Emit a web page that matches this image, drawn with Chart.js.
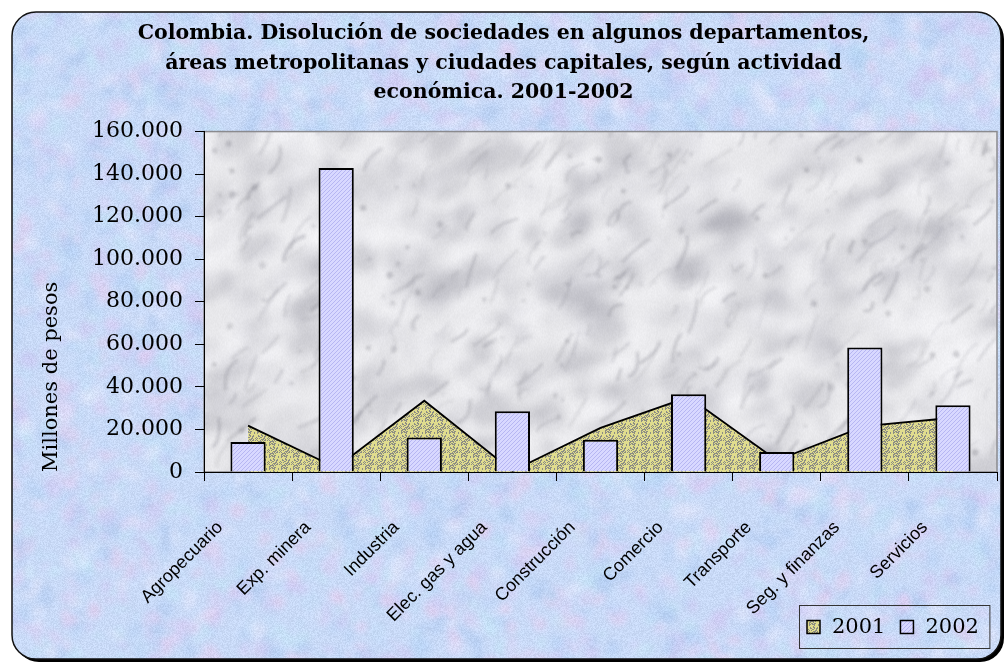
<!DOCTYPE html>
<html>
<head>
<meta charset="utf-8">
<script src="https://cdn.jsdelivr.net/npm/chart.js@4.4.1/dist/chart.umd.min.js"></script>
<style>
  html, body { margin: 0; padding: 0; background: #fff; }
  #wrap { width: 1007px; height: 669px; }
</style>
</head>
<body>
<div id="wrap"><canvas id="chart" width="1007" height="669"></canvas></div>
<script>
// Data
// ----------------------------------------------
const categories = ['Agropecuario', 'Exp. minera', 'Industria', 'Elec. gas y agua', 'Construcción',
                    'Comercio', 'Transporte', 'Seg. y finanzas', 'Servicios'];
const values2001 = [21800, 2000, 33500, 500, 20700, 35200, 5500, 21600, 25500];
const values2002 = [14100, 142900, 16200, 28500, 15200, 36500, 9400, 58500, 31400];
const seriesNames = ['2001', '2002'];
const titleLines = [
    'Colombia. Disolución de sociedades en algunos departamentos,',
    'áreas metropolitanas y ciudades capitales, según actividad',
    'económica. 2001-2002'
];
const yAxisTitle = 'Millones de pesos';


// Textures (seeded, purely decorative)
// ----------------------------------------------
function rng( seed ) {
    return function() {
        seed |= 0; seed = seed + 0x6D2B79F5 | 0;
        let t = Math.imul( seed ^ seed >>> 15, 1 | seed );
        t = t + Math.imul( t ^ t >>> 7, 61 | t ) ^ t;
        return ( ( t ^ t >>> 14 ) >>> 0 ) / 4294967296;
    };
}

function addGrain( g, w, h, amount, rand ) {
    const img = g.getImageData( 0, 0, w, h );
    const d = img.data;
    for ( let i = 0; i < d.length; i += 4 ) {
        const n = ( rand() - 0.5 ) * amount;
        d[i] += n; d[i + 1] += n; d[i + 2] += n;
    }
    g.putImageData( img, 0, 0 );
}

// draw once, blur once
function blurred( src, px ) {
    const c = document.createElement( 'canvas' );
    c.width = src.width; c.height = src.height;
    const g = c.getContext( '2d' );
    g.drawImage( src, 0, 0 );
    g.filter = 'blur(' + px + 'px)';
    g.drawImage( src, 0, 0 );
    g.filter = 'none';
    return c;
}

function makeBackground( w, h ) {
    const c = document.createElement( 'canvas' );
    c.width = w; c.height = h;
    const g = c.getContext( '2d' );
    const rand = rng( 7 );
    g.fillStyle = '#c9daf7';
    g.fillRect( 0, 0, w, h );
    const palette = [ '#b8d4f5', '#c2e4f5', '#e4cdee', '#cfc6f2', '#e4e8fb', '#afcbf1', '#d8cff4', '#c3dcf8' ];
    g.globalAlpha = 0.55;
    for ( let i = 0; i < 4000; i++ ) {
        g.fillStyle = palette[ Math.floor( rand() * palette.length ) ];
        g.beginPath();
        g.ellipse( rand() * w, rand() * h, 3 + rand() * 9, 2 + rand() * 7, rand() * Math.PI, 0, Math.PI * 2 );
        g.fill();
    }
    g.globalAlpha = 1;
    const out = blurred( c, 3 );
    addGrain( out.getContext( '2d' ), w, h, 20, rand );
    return out;
}

function makeMarble( w, h ) {
    const c = document.createElement( 'canvas' );
    c.width = w; c.height = h;
    const g = c.getContext( '2d' );
    const rand = rng( 21 );
    g.fillStyle = '#e8e8eb';
    g.fillRect( 0, 0, w, h );
    g.globalAlpha = 0.3;
    for ( let i = 0; i < 1000; i++ ) {
        const r = rand();
        g.fillStyle = r < 0.5 ? '#fafafc' : ( r < 0.82 ? '#c6c6cc' : '#a0a0a8' );
        g.beginPath();
        g.ellipse( rand() * w, rand() * h, 5 + rand() * 24, 4 + rand() * 12, -0.7 + rand() * 0.6, 0, Math.PI * 2 );
        g.fill();
    }
    const soft = blurred( c, 5 );
    const s = soft.getContext( '2d' );

    const veins = document.createElement( 'canvas' );
    veins.width = w; veins.height = h;
    const v = veins.getContext( '2d' );
    for ( let i = 0; i < 300; i++ ) {
        v.globalAlpha = 0.12 + rand() * 0.22;
        v.strokeStyle = '#7a7a84';
        v.lineWidth = 1 + rand() * 2.5;
        const x = rand() * w, y = rand() * h, len = 10 + rand() * 30;
        const ang = -0.5 - rand() * 0.9;
        v.beginPath();
        v.moveTo( x, y );
        v.quadraticCurveTo( x + Math.cos( ang ) * len * 0.5 + ( rand() - 0.5 ) * 20,
                            y + Math.sin( ang ) * len * 0.5 + ( rand() - 0.5 ) * 20,
                            x + Math.cos( ang ) * len, y + Math.sin( ang ) * len );
        v.stroke();
    }
    for ( let i = 0; i < 120; i++ ) {
        v.globalAlpha = 0.25 + rand() * 0.2;
        v.fillStyle = '#8a8a92';
        v.beginPath();
        v.arc( rand() * w, rand() * h, 1 + rand() * 2.5, 0, Math.PI * 2 );
        v.fill();
    }
    s.filter = 'blur(1.5px)';
    s.drawImage( veins, 0, 0 );
    s.filter = 'none';
    addGrain( s, w, h, 8, rand );
    return soft;
}

function makeAreaPattern() {
    const c = document.createElement( 'canvas' );
    c.width = 12; c.height = 12;
    const g = c.getContext( '2d' );
    const rand = rng( 3 );
    g.fillStyle = '#e0dc8e';
    g.fillRect( 0, 0, 12, 12 );
    g.fillStyle = '#8c8c84';
    for ( let i = 0; i < 60; i++ ) {
        g.fillRect( Math.floor( rand() * 12 ), Math.floor( rand() * 12 ), 1, 1 );
    }
    return g.createPattern( c, 'repeat' );
}

function makeBarPattern() {
    const c = document.createElement( 'canvas' );
    c.width = 4; c.height = 4;
    const g = c.getContext( '2d' );
    g.fillStyle = '#d8d8ff';
    g.fillRect( 0, 0, 4, 4 );
    g.fillStyle = '#b6b6f2';
    for ( let i = 0; i < 4; i++ ) g.fillRect( i, 3 - i, 1, 1 );
    return g.createPattern( c, 'repeat' );
}

const bgTexture  = makeBackground( 1007, 669 );
const areaFill   = makeAreaPattern();
const barFill    = makeBarPattern();
let marbleTexture = null;


// Frame, plot background and legend
// ----------------------------------------------
function roundRect( g, x, y, w, h, r ) {
    g.beginPath();
    g.moveTo( x + r, y );
    g.arcTo( x + w, y, x + w, y + h, r );
    g.arcTo( x + w, y + h, x, y + h, r );
    g.arcTo( x, y + h, x, y, r );
    g.arcTo( x, y, x + w, y, r );
    g.closePath();
}

const framePlugin = {
    id: 'frame',
    beforeDraw( chart ) {
        const g = chart.ctx;
        const a = chart.chartArea;
        g.save();
        g.fillStyle = '#fff';
        g.fillRect( 0, 0, chart.width, chart.height );
        roundRect( g, 15, 15, 989, 647, 24 );
        g.fillStyle = '#000';
        g.fill();
        roundRect( g, 12, 12, 989, 647, 24 );
        g.save();
        g.clip();
        g.drawImage( bgTexture, 0, 0 );
        g.restore();
        g.lineWidth = 1.5;
        g.strokeStyle = '#111';
        g.stroke();

        const w = Math.round( a.right - a.left ), h = Math.round( a.bottom - a.top );
        if ( !marbleTexture || marbleTexture.width !== w || marbleTexture.height !== h ) {
            marbleTexture = makeMarble( w, h );
        }
        g.drawImage( marbleTexture, a.left, a.top );
        g.strokeStyle = '#8a8a8e';
        g.lineWidth = 1.5;
        g.strokeRect( a.left, a.top, a.right - a.left, a.bottom - a.top );
        g.restore();
    },
    // the built-in legend would take layout room that the rotated labels need
    afterDraw( chart ) {
        const g = chart.ctx;
        const sets = chart.data.datasets;
        const cy = 627, box = 13, gap = 12, pad = 15;
        let x = 807;
        g.save();
        g.font = '21px "DejaVu Serif"';
        g.textBaseline = 'middle';
        sets.forEach( ( ds, i ) => {
            g.fillStyle = ds.backgroundColor;
            g.fillRect( x, cy - box / 2, box, box );
            g.strokeStyle = '#000';
            g.lineWidth = 1.5;
            g.strokeRect( x, cy - box / 2, box, box );
            x += box + gap;
            g.fillStyle = '#000';
            g.fillText( ds.label, x, cy + 1 );
            x += g.measureText( ds.label ).width + ( i < sets.length - 1 ? pad : 0 );
        } );
        g.strokeStyle = '#333';
        g.lineWidth = 1;
        g.strokeRect( 799.5, 605.5, x + 11 - 799.5, 43 );
        g.restore();
    }
};

const thousands = v => String( v ).replace( /\B(?=(\d{3})+(?!\d))/g, '.' );


// Chart
// ----------------------------------------------
Chart.defaults.font.family = 'DejaVu Serif';
Chart.defaults.color = '#000';

const chart = new Chart(
    document.getElementById( 'chart' ), {
        type: 'bar',
        data: {
            labels: categories,
            datasets: [
                {
                    type: 'line',
                    label: seriesNames[0],
                    data: values2001,
                    order: 1,
                    fill: 'origin',
                    backgroundColor: areaFill,
                    borderColor: '#000',
                    borderWidth: 1.8,
                    pointRadius: 0,
                    pointHoverRadius: 0,
                    tension: 0
                },
                {
                    type: 'bar',
                    label: seriesNames[1],
                    data: values2002,
                    order: 0,
                    backgroundColor: barFill,
                    borderColor: '#000',
                    borderWidth: 2,
                    barPercentage: 0.4,
                    categoryPercentage: 1
                }
            ]
        },
        options: {
            responsive: false,
            animation: false,
            layout: {
                padding: { left: 10, right: 10, top: 0, bottom: 0 }
            },
            plugins: {
                title: {
                    display: true,
                    text: titleLines,
                    color: '#000',
                    font: { family: 'DejaVu Serif', size: 20.5, weight: 'bold', lineHeight: 1.44 },
                    padding: { top: 19, bottom: 24 }
                },
                legend: { display: false },
                tooltip: { enabled: false }
            },
            scales: {
                x: {
                    grid: { offset: true, drawOnChartArea: false, tickLength: 9, color: '#000' },
                    border: { color: '#000', width: 1 },
                    ticks: {
                        autoSkip: false,
                        minRotation: 45,
                        maxRotation: 45,
                        labelOffset: -28,
                        padding: 36,
                        font: { family: 'Liberation Sans', size: 18 },
                        color: '#000'
                    },
                    afterFit: scale => { scale.height = 197; }
                },
                y: {
                    min: 0,
                    max: 160000,
                    grid: { drawOnChartArea: false, tickLength: 9, color: '#000' },
                    border: { color: '#000', width: 1 },
                    ticks: {
                        stepSize: 20000,
                        padding: 12,
                        font: { family: 'DejaVu Serif', size: 22 },
                        color: '#000',
                        callback: v => thousands( v )
                    },
                    title: {
                        display: true,
                        text: yAxisTitle,
                        align: 'start',
                        color: '#000',
                        font: { family: 'DejaVu Serif', size: 21 },
                        padding: { top: 29, bottom: 0 }
                    },
                    afterFit: scale => { scale.width = 194; }
                }
            }
        },
        plugins: [ framePlugin ]
    }
);
</script>
</body>
</html>
